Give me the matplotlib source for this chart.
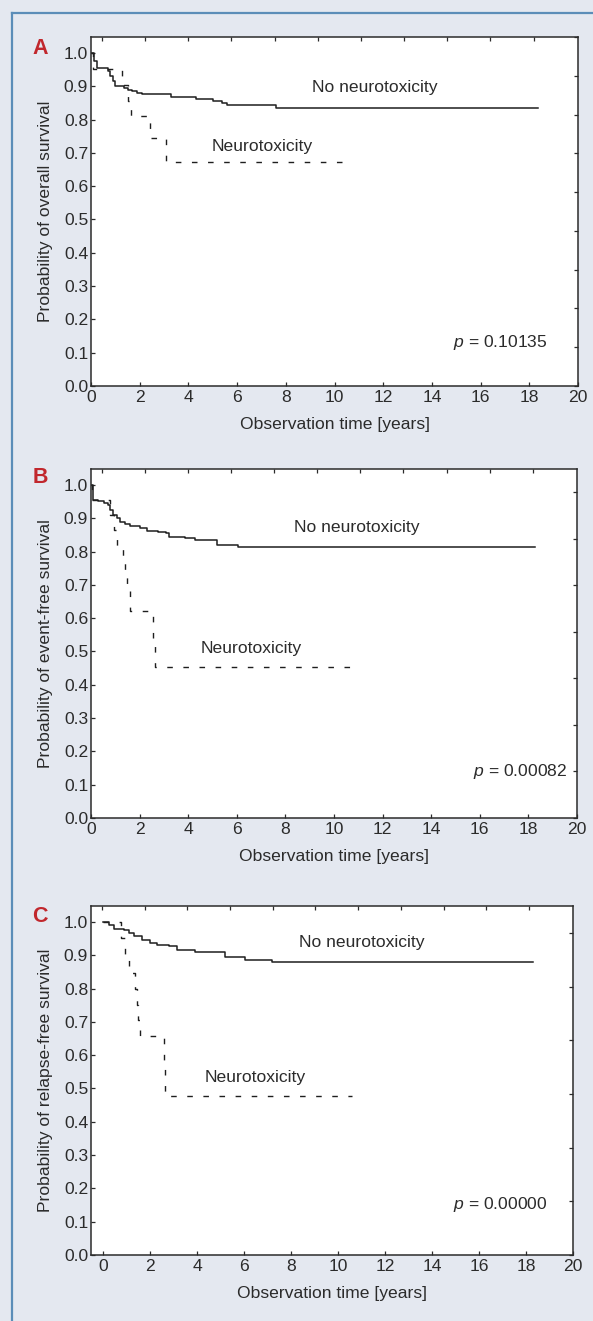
import numpy as np
import matplotlib
matplotlib.use("Agg")
import matplotlib.pyplot as plt
from matplotlib.lines import Line2D

plt.rcParams['font.family'] = ['Liberation Sans', 'DejaVu Sans']
plt.rcParams['mathtext.fontset'] = 'custom'
plt.rcParams['mathtext.it'] = 'Liberation Sans:italic'
plt.rcParams['mathtext.rm'] = 'Liberation Sans'
plt.rcParams['lines.scale_dashes'] = False

# ---------------- data ----------------
A_no_t = [0, 0.12, 0.25, 0.7, 0.8, 0.9, 1.0, 1.35, 1.5, 1.7, 1.9, 2.1, 3.3, 4.3, 5.0, 5.4, 5.6, 7.6, 18.35]
A_no_p = [1.0, 0.975, 0.955, 0.945, 0.93, 0.915, 0.90, 0.895, 0.89, 0.885, 0.88, 0.876, 0.869, 0.862, 0.856, 0.85, 0.844, 0.836, 0.836]
A_nt_t = [0, 0.1, 1.26, 1.5, 1.65, 2.43, 3.07, 10.37]
A_nt_p = [1.0, 0.952, 0.905, 0.857, 0.81, 0.745, 0.674, 0.674]

B_no_t = [0, 0.1, 0.3, 0.55, 0.71, 0.8, 0.92, 1.05, 1.19, 1.4, 1.6, 2.0, 2.29, 2.76, 3.1, 3.2, 3.87, 4.28, 5.2, 6.06, 18.27]
B_no_p = [1.0, 0.955, 0.951, 0.945, 0.94, 0.925, 0.91, 0.9, 0.89, 0.882, 0.877, 0.87, 0.863, 0.86, 0.855, 0.845, 0.842, 0.836, 0.82, 0.814, 0.814]
B_nt_t = [0, 0.05, 0.78, 0.95, 1.08, 1.3, 1.4, 1.5, 1.6, 2.55, 2.65, 10.67]
B_nt_p = [1.0, 0.955, 0.91, 0.864, 0.818, 0.773, 0.727, 0.682, 0.622, 0.538, 0.454, 0.454]

C_no_t = [0, 0.23, 0.45, 0.87, 1.08, 1.29, 1.65, 2.0, 2.28, 2.78, 3.13, 3.91, 5.2, 6.04, 7.18, 18.28]
C_no_p = [1.0, 0.992, 0.98, 0.975, 0.967, 0.957, 0.947, 0.937, 0.932, 0.927, 0.917, 0.909, 0.894, 0.887, 0.879, 0.879]
C_nt_t = [0, 0.75, 0.94, 1.08, 1.35, 1.42, 1.5, 1.55, 2.57, 2.62, 10.58]
C_nt_p = [1.0, 0.952, 0.905, 0.848, 0.80, 0.752, 0.705, 0.657, 0.567, 0.477, 0.477]

panel_letters = ["A", "B", "C"]
y_labels = ["Probability of overall survival",
            "Probability of event-free survival",
            "Probability of relapse-free survival"]
p_texts = ["0.10135", "0.00082", "0.00000"]
x_label = "Observation time [years]"
x_ticks = list(range(0, 21, 2))
y_ticks = [round(0.1 * i, 1) for i in range(11)]
curve_label_no = "No neurotoxicity"
curve_label_nt = "Neurotoxicity"

# ---------------- layout / style ----------------
W, H = 593, 1321
fig = plt.figure(figsize=(W / 100, H / 100), dpi=100)
bg = "#e4e8f0"
fig.patch.set_facecolor(bg)

# frame lines (left and top)
fig.add_artist(Line2D([12 / W, 12 / W], [0, 1 - 13 / H], transform=fig.transFigure,
                      color="#5b8db8", lw=1.6))
fig.add_artist(Line2D([12 / W, 1], [1 - 13 / H, 1 - 13 / H], transform=fig.transFigure,
                      color="#5b8db8", lw=1.6))

boxes = [(91, 578, 37, 386), (91, 577, 469, 818), (91, 573, 906, 1255)]
xlims = [(0, 20), (0, 20), (-0.52, 20)]
right_div = [9, 7.5, 6.5]
curves = [(A_no_t, A_no_p, A_nt_t, A_nt_p),
          (B_no_t, B_no_p, B_nt_t, B_nt_p),
          (C_no_t, C_no_p, C_nt_t, C_nt_p)]
lab_no_pos = [(11.65, 0.895), (10.95, 0.871), (11.0, 0.939)]
lab_nt_pos = [(7.04, 0.718), (6.58, 0.508), (6.47, 0.534)]
p_pos = [(18.77, 0.132), (19.6, 0.141), (18.9, 0.152)]
letter_y = [49, 478, 917]

ink = "#2b2b2b"
fs = 12.6

for i in range(3):
    l, r, t, b = boxes[i]
    ax = fig.add_axes([l / W, 1 - b / H, (r - l) / W, (b - t) / H])
    ax.set_facecolor("white")
    ax.set_xlim(*xlims[i])
    ax.set_ylim(0, 1.048)
    for s in ax.spines.values():
        s.set_color(ink)
        s.set_linewidth(1.1)
    no_t, no_p, nt_t, nt_p = curves[i]
    ax.step(no_t, no_p, where="post", color="#1e1e1e", lw=1.1)
    ax.step(nt_t, nt_p, where="post", color="#1e1e1e", lw=1.0, dashes=(4.0, 7.6))

    ax.set_xticks(x_ticks)
    ax.set_yticks(y_ticks)
    ax.set_yticklabels([f"{v:.1f}" for v in y_ticks])
    ax.tick_params(direction="in", length=3, width=0.9, color=ink,
                   labelsize=fs, labelcolor=ink, pad=3)
    ax.tick_params(axis="y", pad=2)
    ax.set_xlabel(x_label, fontsize=fs, color=ink)
    ax.set_ylabel(y_labels[i], fontsize=fs, color=ink)
    ax.yaxis.set_label_coords(-0.094, 0.5)
    ax.yaxis.label.set_va("center")
    ax.xaxis.set_label_coords(0.5, -0.109)
    ax.xaxis.label.set_va("center")

    ax.text(*lab_no_pos[i], curve_label_no, fontsize=fs, color=ink, ha="center", va="center")
    ax.text(*lab_nt_pos[i], curve_label_nt, fontsize=fs, color=ink, ha="center", va="center")
    ax.text(*p_pos[i], "$\\it{p}$ = " + p_texts[i], fontsize=fs, color=ink, ha="right", va="center")

    # extra tick marks on top and right (independent spacing as in the original)
    axt = ax.twiny()
    axt.set_xlim(0, 1)
    axt.set_xticks([0.0227 + k * 0.0886 for k in range(11)])
    axt.tick_params(direction="in", length=3, width=0.9, color=ink, labeltop=False)
    axr = ax.twinx()
    axr.set_ylim(0, 1)
    n = int(right_div[i])
    axr.set_yticks([k / right_div[i] for k in range(n + 1)])
    axr.tick_params(direction="in", length=3, width=0.9, color=ink, labelright=False)
    for a in (axt, axr):
        for s in a.spines.values():
            s.set_visible(False)

    fig.text(40 / W, 1 - letter_y[i] / H, panel_letters[i], color="#c1272d",
             fontsize=15.5, fontweight="bold", ha="center", va="center")

fig.savefig("out.png", dpi=100, facecolor=bg)
